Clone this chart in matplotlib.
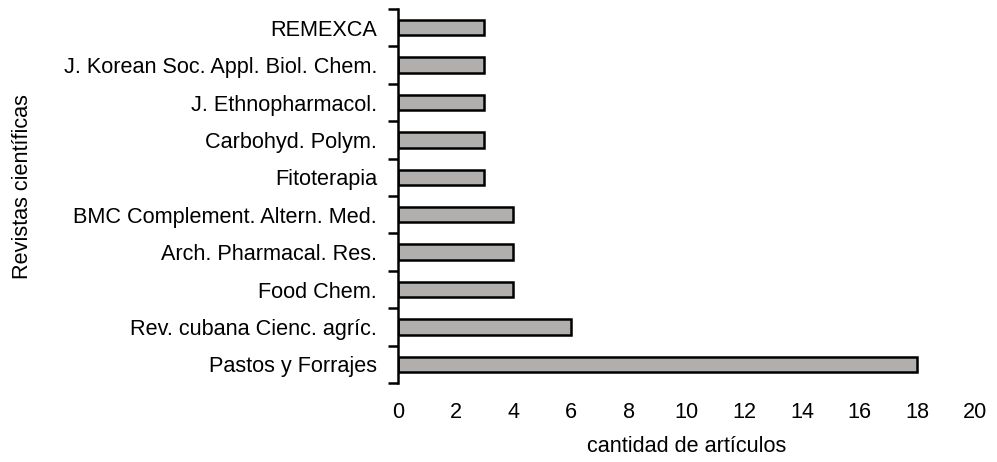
import numpy as np
import matplotlib.pyplot as plt

plt.rcParams['font.family'] = ['Liberation Sans', 'DejaVu Sans']

journals = ['Pastos y Forrajes', 'Rev. cubana Cienc. agríc.', 'Food Chem.',
            'Arch. Pharmacal. Res.', 'BMC Complement. Altern. Med.', 'Fitoterapia',
            'Carbohyd. Polym.', 'J. Ethnopharmacol.',
            'J. Korean Soc. Appl. Biol. Chem.', 'REMEXCA']
counts = [18, 6, 4, 4, 4, 3, 3, 3, 3, 3]

fig = plt.figure(figsize=(9.97, 4.62), dpi=100)
ax = fig.add_axes([0.399, 0.171, 0.579, 0.8095])

y = np.arange(len(journals))
ax.barh(y, counts, height=0.41, color='#b1aeae', edgecolor='black', linewidth=1.8)

ax.set_xlim(0, 20)
ax.set_ylim(-0.5, len(journals) - 0.5)
ax.set_xticks(range(0, 21, 2))
ax.set_yticks(y)
ax.set_yticklabels(journals)
ax.set_yticks(np.arange(-0.5, len(journals)), minor=True)

for s in ['top', 'right', 'bottom']:
    ax.spines[s].set_visible(False)
ax.spines['left'].set_linewidth(1.8)

fs = 15.6
ax.tick_params(axis='y', which='major', length=0, pad=15, labelsize=fs)
ax.tick_params(axis='y', which='minor', length=7, width=1.8)
ax.tick_params(axis='x', length=0, pad=14, labelsize=fs)

ax.set_xlabel('cantidad de artículos', fontsize=fs, labelpad=9)
ax.set_ylabel('Revistas científicas', fontsize=fs)
ax.yaxis.set_label_coords(-0.632, 0.524)

fig.savefig('out.png', dpi=100)
